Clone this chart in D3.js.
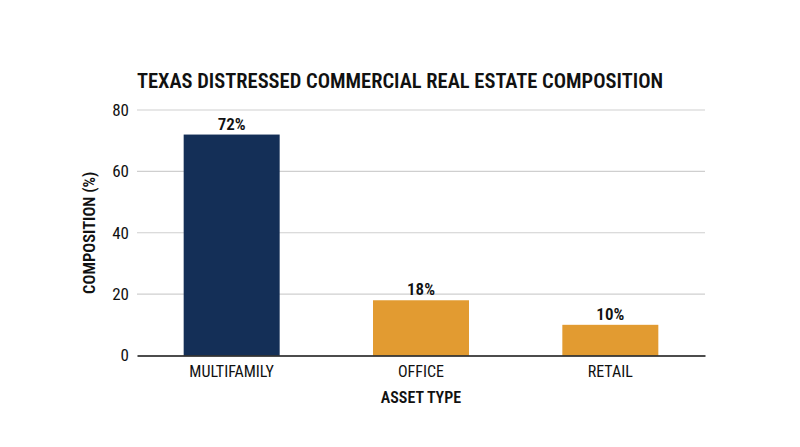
<!DOCTYPE html>
<html>
<head>
<meta charset="utf-8">
<script src="https://cdn.jsdelivr.net/npm/d3@7"></script>
<style>
  body { margin: 0; background: #fff; }
  text { font-family: "Roboto Condensed", "Liberation Sans Narrow", "DejaVu Sans Condensed", sans-serif; fill: #111; }
</style>
</head>
<body>
<div id="chart"></div>
<script>
var categories = ["MULTIFAMILY", "OFFICE", "RETAIL"];
var values = [72, 18, 10];
var barColors = ["#142f57", "#e29b31", "#e29b31"];
var yTicks = [0, 20, 40, 60, 80];

var svgWidth = 800;
var svgHeight = 447;

var margin = { top: 110, right: 95, bottom: 91.5, left: 137 };
var width = svgWidth - margin.left - margin.right;
var height = svgHeight - margin.top - margin.bottom;

var svg = d3.select("#chart")
  .append("svg")
  .attr("width", svgWidth)
  .attr("height", svgHeight);

var chartGroup = svg.append("g")
  .attr("transform", `translate(${margin.left}, ${margin.top})`);

var xScale = d3.scaleBand()
  .domain(categories)
  .range([0, width])
  .paddingInner(0.493)
  .paddingOuter(0.2465);

var yScale = d3.scaleLinear()
  .domain([0, 80])
  .range([height, 0]);

// gridlines
chartGroup.append("g")
  .selectAll("line")
  .data(yTicks.filter(d => d > 0))
  .enter()
  .append("line")
  .attr("x1", 0)
  .attr("x2", width)
  .attr("y1", d => yScale(d))
  .attr("y2", d => yScale(d))
  .attr("stroke", "#cfcfcf")
  .attr("stroke-width", 1.2);

// y axis labels
var leftAxis = d3.axisLeft(yScale).tickValues(yTicks).tickSize(0).tickPadding(8);
var yAxis = chartGroup.append("g")
  .attr("font-size", 17)
  .call(leftAxis)
  .attr("font-size", 17)
  .attr("font-family", null);
yAxis.select(".domain").remove();
yAxis.selectAll("text").style("font-size", "17px");

// bars
chartGroup.selectAll("rect.bar")
  .data(values)
  .enter()
  .append("rect")
  .attr("class", "bar")
  .attr("x", (d, i) => xScale(categories[i]))
  .attr("y", d => yScale(d))
  .attr("width", xScale.bandwidth())
  .attr("height", d => height - yScale(d))
  .attr("fill", (d, i) => barColors[i]);

// value labels
chartGroup.selectAll("text.val")
  .data(values)
  .enter()
  .append("text")
  .attr("class", "val")
  .attr("x", (d, i) => xScale(categories[i]) + xScale.bandwidth() / 2)
  .attr("y", d => yScale(d) - 5)
  .attr("text-anchor", "middle")
  .style("font-size", "17px")
  .attr("font-weight", 600)
  .text(d => d + "%");

// x axis
var bottomAxis = d3.axisBottom(xScale).tickSize(0).tickPadding(10);
var xAxis = chartGroup.append("g")
  .attr("transform", `translate(0, ${height})`)
  .call(bottomAxis)
  .attr("font-family", null);
xAxis.select(".domain").attr("stroke", "#111").attr("stroke-width", 1.6);
xAxis.selectAll("text").style("font-size", "16px");

// axis titles
chartGroup.append("text")
  .attr("x", width / 2)
  .attr("y", height + 47)
  .attr("text-anchor", "middle")
  .style("font-size", "16px")
  .attr("font-weight", 600)
  .text("ASSET TYPE");

chartGroup.append("text")
  .attr("transform", "rotate(-90)")
  .attr("x", -height / 2)
  .attr("y", -42)
  .attr("text-anchor", "middle")
  .style("font-size", "16.5px")
  .attr("font-weight", 600)
  .text("COMPOSITION (%)");

// title
svg.append("text")
  .attr("x", 400)
  .attr("y", 88)
  .attr("text-anchor", "middle")
  .style("font-size", "20.5px")
  .attr("font-weight", 600)
  .text("TEXAS DISTRESSED COMMERCIAL REAL ESTATE COMPOSITION");
</script>
</body>
</html>
